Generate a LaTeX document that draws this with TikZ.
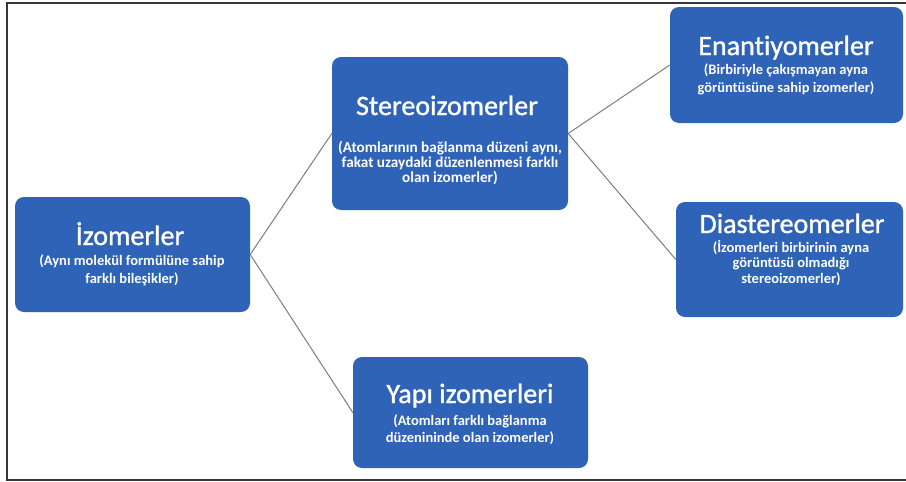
\documentclass[tikz,border=0pt]{standalone}
\usepackage{fontspec}
\setmainfont[Ligatures=NoCommon]{Carlito}
\newfontfamily\ttlfont[FakeBold=1.2,Ligatures=NoCommon]{Carlito}
\definecolor{boxblue}{RGB}{46,99,184}
\definecolor{linegray}{RGB}{125,125,125}
\definecolor{framegray}{RGB}{55,55,55}
\tikzset{
  blob/.style={rounded corners=9pt, fill=boxblue, draw=none, inner sep=0pt},
  ttl/.style={text=white, anchor=base, inner sep=0pt, font=\ttlfont\fontsize{28}{30}\selectfont},
  sub/.style={text=white, anchor=base, inner sep=0pt, font=\bfseries\fontsize{14.5}{17}\selectfont},
  subbig/.style={text=white, anchor=base, inner sep=0pt, font=\bfseries\fontsize{15.2}{17}\selectfont},
  conn/.style={draw=linegray, line width=1pt},
}
\begin{document}
\begin{tikzpicture}[x=1pt,y=-1pt]
\useasboundingbox (0,0) rectangle (906,482);
\fill[white] (0,0) rectangle (906,482);
\draw[framegray, line width=2pt] (912,3) -- (7,3) -- (7,480) -- (912,480);

% boxes
\node[blob, minimum width=235pt, minimum height=115pt] (iz) at (132.5,254.5) {};
\node[blob, minimum width=236pt, minimum height=153pt] (st) at (450,133.5) {};
\node[blob, minimum width=233pt, minimum height=116pt] (en) at (786.5,65) {};
\node[blob, minimum width=227pt, minimum height=115pt] (di) at (789.5,259.5) {};
\node[blob, minimum width=235pt, minimum height=111pt] (ya) at (470.5,412.5) {};

% connectors
\draw[conn] (iz.east) -- (st.west);
\draw[conn] (iz.east) -- (ya.west);
\draw[conn] (st.east) -- (en.west);
\draw[conn] (st.east) -- (di.west);

% texts
\node[ttl] (izt) at (130,245) {İzomerler};
\node[sub] (izs1) at (132,265) {(Aynı molekül formülüne sahip};
\node[sub] (izs2) at (132,283) {farklı bileşikler)};

\node[ttl] (stt) at (447,115) {Stereoizomerler};
\node[subbig] (sts1) at (450,152) {(Atomlarının bağlanma düzeni aynı,};
\node[subbig] (sts2) at (450,167) {fakat uzaydaki düzenlenmesi farklı};
\node[subbig] (sts3) at (450,182) {olan izomerler)};

\node[ttl] (ent) at (786,55) {Enantiyomerler};
\node[sub] (ens1) at (786,74) {(Birbiriyle çakışmayan ayna};
\node[sub] (ens2) at (786,92) {görüntüsüne sahip izomerler)};

\node[ttl] (dit) at (792,233) {Diastereomerler};
\node[sub] (dis1) at (791,252) {(İzomerleri birbirinin ayna};
\node[sub] (dis2) at (791,267.5) {görüntüsü olmadığı};
\node[sub] (dis3) at (791,283) {stereoizomerler)};

\node[ttl] (yat) at (470,403) {Yapı izomerleri};
\node[sub] (yas1) at (470,425) {(Atomları farklı bağlanma};
\node[sub] (yas2) at (470,442) {düzenininde olan izomerler)};
\end{tikzpicture}
\end{document}
